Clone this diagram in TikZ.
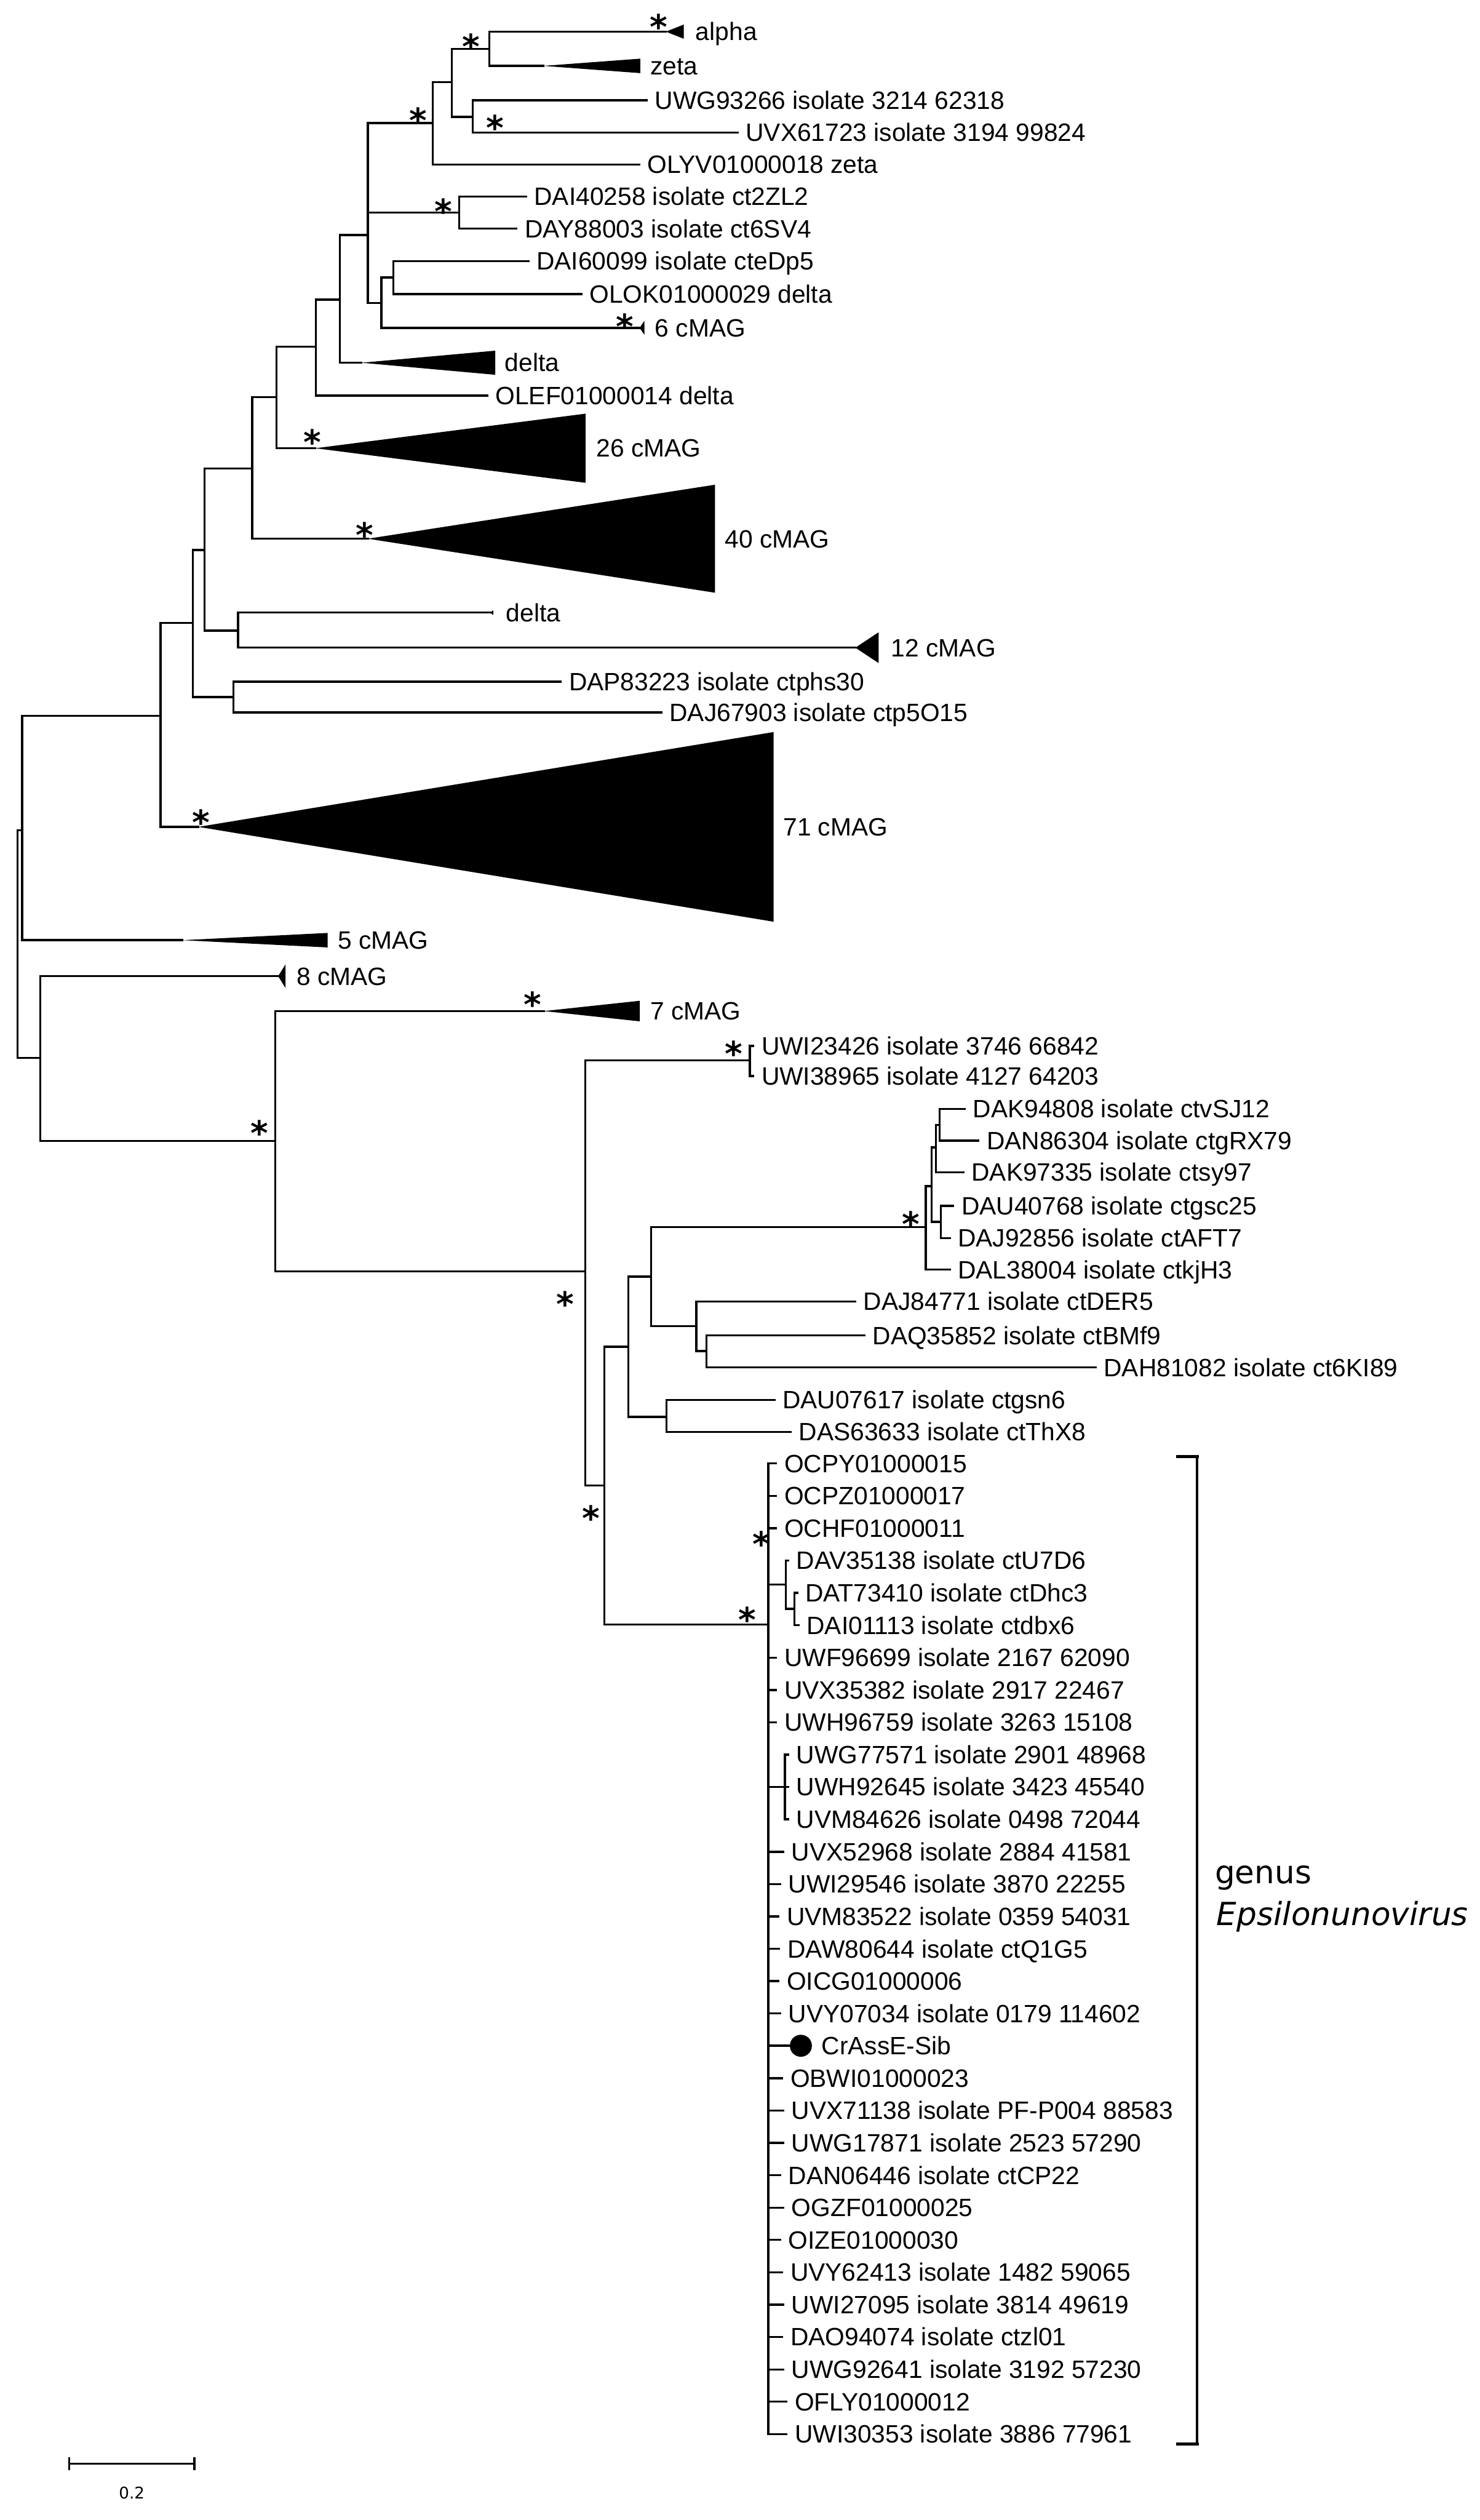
\documentclass[tikz,border=0pt]{standalone}
\usepackage{fontspec}
\setmainfont{Liberation Sans}
\newfontfamily\vfont{DejaVu Sans}
\usetikzlibrary{positioning}
\tikzset{leaf/.style = {anchor=west, inner xsep=4.5pt, inner ysep=0pt,
                        text height=11pt, text depth=0pt,
                        font=\fontsize{15.6}{16}\selectfont}}
\tikzset{bstar/.style = {anchor=base, inner sep=0pt, yshift=-12.5pt,
                         font=\vfont\bfseries\fontsize{21}{21}\selectfont}}
\tikzset{circ/.style = {fill, circle, inner sep = 0, minimum size = 13.7}}
\tikzset{every picture/.style={
    every path/.style={line width=1.3pt, line cap=rect},
}}
\newcommand{\clade}[3]{\fill (#1) -- ++(#2,-#3) -- ++(0,2*#3) -- cycle;}

\begin{document}
\begin{tikzpicture}[x=1pt,y=-1pt]
    \useasboundingbox (0,0) rectangle (921,1568);
    % inner nodes
    \coordinate (nr) at (10.8,516.5);
    \coordinate (nn) at (13.8,516.5);
    \coordinate (nm) at (99.9,445.3);
    \coordinate (nk) at (119.9,387.6);
    \coordinate (nl) at (145.3,433.7);
    \coordinate (ni) at (127.2,342.3);
    \coordinate (nj) at (148.2,392.4);
    \coordinate (nh) at (157,291.4);
    \coordinate (ng) at (172,247.1);
    \coordinate (nf) at (196.6,215.8);
    \coordinate (ne) at (211.5,186.4);
    \coordinate (nd) at (228.9,146.2);
    \coordinate (nc) at (269.3,76.6);
    \coordinate (nb) at (281.2,51);
    \coordinate (na) at (304.6,30.4);
    \coordinate (nuu) at (294.1,72.7);
    \coordinate (ndg) at (285.7,132.2);
    \coordinate (ndh) at (237.3,188.6);
    \coordinate (ndi) at (244.7,172.7);
    \coordinate (no) at (25,658.3);
    \coordinate (np) at (171.2,710);
    \coordinate (nq) at (364.2,791);
    \coordinate (nuw) at (466.6,659.8);
    \coordinate (ns) at (376.2,924.3);
    \coordinate (nt) at (391.1,838);
    \coordinate (nu) at (405.3,794.4);
    \coordinate (nv) at (576.1,763.6);
    \coordinate (nw) at (579.8,738);
    \coordinate (nwa) at (582.4,714);
    \coordinate (nwb) at (584.7,700);
    \coordinate (nwc) at (585.4,760.2);
    \coordinate (nx) at (433.4,825.2);
    \coordinate (ny) at (439.7,840.6);
    \coordinate (nz) at (414.7,881.6);
    \coordinate (ngen) at (478.2,1010.7);
    \coordinate (ngd) at (489,985.9);
    \coordinate (ngd2) at (494.5,1001);
    \coordinate (ngu) at (488.5,1111.9);

    % collapsed clades
    \coordinate (talpha) at (414.4,19.7);
    \coordinate (tzeta) at (338.1,41);
    \coordinate (tsix) at (398,204);
    \coordinate (tdelta) at (225,225.7);
    \coordinate (ttwsix) at (196.2,278.9);
    \coordinate (tforty) at (228.9,335.2);
    \coordinate (tdsmall) at (305,381.2);
    \coordinate (ttwelve) at (532.3,403);
    \coordinate (tseventy) at (123.5,514.5);
    \coordinate (tfive) at (113.5,585);
    \coordinate (teight) at (173.1,607.4);
    \coordinate (tseven) at (338.5,629.1);
    \clade{talpha}{11.1}{4.4}
    \clade{tzeta}{60.4}{4.5}
    \clade{tsix}{3}{4.3}
    \clade{tdelta}{83.2}{7.5}
    \clade{ttwsix}{168.2}{21.5}
    \clade{tforty}{216.1}{33.6}
    \clade{tdsmall}{2}{1.5}
    \clade{ttwelve}{14.5}{9.6}
    \clade{tseventy}{357.9}{59}
    \clade{tfive}{90.4}{4.5}
    \clade{teight}{4.6}{7.4}
    \clade{tseven}{59.7}{6.4}
    \node[leaf] (lalpha) at (427.8,19.7) {alpha};
    \node[leaf] (lzeta) at (399.5,41) {zeta};
    \node[leaf] (lsix) at (402.5,204) {6 cMAG};
    \node[leaf] (ldelta) at (309.1,225.7) {delta};
    \node[leaf] (ltwsix) at (366.1,278.9) {26 cMAG};
    \node[leaf] (lforty) at (446,335.2) {40 cMAG};
    \node[leaf] (ldsmall) at (309.8,381.2) {delta};
    \node[leaf] (ltwelve) at (549.5,403) {12 cMAG};
    \node[leaf] (lseventy) at (482.3,514.5) {71 cMAG};
    \node[leaf] (lfive) at (205.2,585) {5 cMAG};
    \node[leaf] (leight) at (179.4,607.4) {8 cMAG};
    \node[leaf] (lseven) at (399.5,629.1) {7 cMAG};

    % leaves, upper part
    \node[leaf] (uwg93266) at (402.4,62.4) {UWG93266 isolate 3214 62318};
    \node[leaf] (uvx61723) at (459,82.4) {UVX61723 isolate 3194 99824};
    \node[leaf] (olyv) at (397.7,102.3) {OLYV01000018 zeta};
    \node[leaf] (dai40258) at (327.3,122.3) {DAI40258 isolate ct2ZL2};
    \node[leaf] (day88003) at (321.4,142.3) {DAY88003 isolate ct6SV4};
    \node[leaf] (dai60099) at (328.8,162.5) {DAI60099 isolate cteDp5};
    \node[leaf] (olok) at (361.8,183) {OLOK01000029 delta};
    \node[leaf] (olef) at (303.2,246.2) {OLEF01000014 delta};
    \node[leaf] (dap83223) at (349,424.1) {DAP83223 isolate ctphs30};
    \node[leaf] (daj67903) at (411.5,443.3) {DAJ67903 isolate ctp5O15};

    % leaves, middle part
    \node[leaf] (uwi23426) at (468.8,650.8) {UWI23426 isolate 3746 66842};
    \node[leaf] (uwi38965) at (468.8,669.5) {UWI38965 isolate 4127 64203};
    \node[leaf] (dak94808) at (600.3,690) {DAK94808 isolate ctvSJ12};
    \node[leaf] (dan86304) at (608.9,709.8) {DAN86304 isolate ctgRX79};
    \node[leaf] (dak97335) at (599.5,729.4) {DAK97335 isolate ctsy97};
    \node[leaf] (dau40768) at (593.2,750.3) {DAU40768 isolate ctgsc25};
    \node[leaf] (daj92856) at (591,770.3) {DAJ92856 isolate ctAFT7};
    \node[leaf] (dal38004) at (591,790) {DAL38004 isolate ctkjH3};
    \node[leaf] (daj84771) at (532.3,809.8) {DAJ84771 isolate ctDER5};
    \node[leaf] (daq35852) at (537.9,831) {DAQ35852 isolate ctBMf9};
    \node[leaf] (dah81082) at (681.8,850.9) {DAH81082 isolate ct6KI89};
    \node[leaf] (dau07617) at (481.9,871) {DAU07617 isolate ctgsn6};
    \node[leaf] (das63633) at (492,891) {DAS63633 isolate ctThX8};

    % leaves, genus clade
    \node[leaf] (ocpy) at (483,910.6) {OCPY01000015};
    \node[leaf] (ocpz) at (483,930.7) {OCPZ01000017};
    \node[leaf] (ochf) at (483,950.9) {OCHF01000011};
    \node[leaf] (dav35138) at (490.5,971) {DAV35138 isolate ctU7D6};
    \node[leaf] (dat73410) at (496.1,991.1) {DAT73410 isolate ctDhc3};
    \node[leaf] (dai01113) at (496.9,1011.3) {DAI01113 isolate ctdbx6};
    \node[leaf] (uwf96699) at (483,1031.4) {UWF96699 isolate 2167 62090};
    \node[leaf] (uvx35382) at (483,1051.5) {UVX35382 isolate 2917 22467};
    \node[leaf] (uwh96759) at (483,1071.6) {UWH96759 isolate 3263 15108};
    \node[leaf] (uwg77571) at (490.5,1091.8) {UWG77571 isolate 2901 48968};
    \node[leaf] (uwh92645) at (490.5,1111.9) {UWH92645 isolate 3423 45540};
    \node[leaf] (uvm84626) at (490.5,1132) {UVM84626 isolate 0498 72044};
    \node[leaf] (uvx52968) at (487.5,1152.2) {UVX52968 isolate 2884 41581};
    \node[leaf] (uwi29546) at (485.5,1172.3) {UWI29546 isolate 3870 22255};
    \node[leaf] (uvm83522) at (484.5,1192.4) {UVM83522 isolate 0359 54031};
    \node[leaf] (daw80644) at (484.9,1212.6) {DAW80644 isolate ctQ1G5};
    \node[leaf] (oicg) at (484.5,1232.7) {OICG01000006};
    \node[leaf] (uvy07034) at (485.5,1252.8) {UVY07034 isolate 0179 114602};
    \node[circ] (crassdot) at (498.4,1272.9) {};
    \node[leaf] (crass) at (506.2,1272.9) {CrAssE-Sib};
    \node[leaf] (obwi) at (486.8,1293.1) {OBWI01000023};
    \node[leaf] (uvx71138) at (487.5,1313.2) {UVX71138 isolate PF-P004 88583};
    \node[leaf] (uwg17871) at (487.5,1333.3) {UWG17871 isolate 2523 57290};
    \node[leaf] (dan06446) at (485.5,1353.5) {DAN06446 isolate ctCP22};
    \node[leaf] (ogzf) at (487.5,1373.6) {OGZF01000025};
    \node[leaf] (oize) at (485.5,1393.7) {OIZE01000030};
    \node[leaf] (uvy62413) at (486.8,1413.9) {UVY62413 isolate 1482 59065};
    \node[leaf] (uwi27095) at (487.5,1434) {UWI27095 isolate 3814 49619};
    \node[leaf] (dao94074) at (486.8,1454.1) {DAO94074 isolate ctzl01};
    \node[leaf] (uwg92641) at (487.5,1474.3) {UWG92641 isolate 3192 57230};
    \node[leaf] (ofly) at (489.5,1494.4) {OFLY01000012};
    \node[leaf] (uwi30353) at (489.5,1514.5) {UWI30353 isolate 3886 77961};

    % branches
    \draw (nr) |- (nn);
    \draw (nr) |- (no);
    \draw (nn) |- (nm);
    \draw (nn) |- (tfive);
    \draw (nm) |- (nk);
    \draw (nm) |- (tseventy);
    \draw (nk) |- (ni);
    \draw (nk) |- (nl);
    \draw (nl) |- (dap83223);
    \draw (nl) |- (daj67903);
    \draw (ni) |- (nh);
    \draw (ni) |- (nj);
    \draw (nj) |- (tdsmall);
    \draw (nj) |- (ttwelve);
    \draw (nh) |- (ng);
    \draw (nh) |- (tforty);
    \draw (ng) |- (nf);
    \draw (ng) |- (ttwsix);
    \draw (nf) |- (ne);
    \draw (nf) |- (olef);
    \draw (ne) |- (nd);
    \draw (ne) |- (tdelta);
    \draw (nd) |- (nc);
    \draw (nd) |- (ndg);
    \draw (nd) |- (ndh);
    \draw (nc) |- (nb);
    \draw (nc) |- (olyv);
    \draw (nb) |- (na);
    \draw (nb) |- (nuu);
    \draw (na) |- (talpha);
    \draw (na) |- (tzeta);
    \draw (nuu) |- (uwg93266);
    \draw (nuu) |- (uvx61723);
    \draw (ndg) |- (dai40258);
    \draw (ndg) |- (day88003);
    \draw (ndh) |- (ndi);
    \draw (ndh) |- (tsix);
    \draw (ndi) |- (dai60099);
    \draw (ndi) |- (olok);
    \draw (no) |- (teight);
    \draw (no) |- (np);
    \draw (np) |- (tseven);
    \draw (np) |- (nq);
    \draw (nq) |- (nuw);
    \draw (nq) |- (ns);
    \draw (nuw) |- (uwi23426);
    \draw (nuw) |- (uwi38965);
    \draw (ns) |- (nt);
    \draw (ns) |- (ngen);
    \draw (nt) |- (nu);
    \draw (nt) |- (nz);
    \draw (nu) |- (nv);
    \draw (nu) |- (nx);
    \draw (nv) |- (nw);
    \draw (nv) |- (dal38004);
    \draw (nw) |- (nwa);
    \draw (nw) |- (nwc);
    \draw (nwa) |- (nwb);
    \draw (nwa) |- (dak97335);
    \draw (nwb) |- (dak94808);
    \draw (nwb) |- (dan86304);
    \draw (nwc) |- (dau40768);
    \draw (nwc) |- (daj92856);
    \draw (nx) |- (daj84771);
    \draw (nx) |- (ny);
    \draw (ny) |- (daq35852);
    \draw (ny) |- (dah81082);
    \draw (nz) |- (dau07617);
    \draw (nz) |- (das63633);
    \draw (ngen) |- (ocpy);
    \draw (ngen) |- (ocpz);
    \draw (ngen) |- (ochf);
    \draw (ngen) |- (ngd);
    \draw (ngd) |- (dav35138);
    \draw (ngd) |- (ngd2);
    \draw (ngd2) |- (dat73410);
    \draw (ngd2) |- (dai01113);
    \draw (ngen) |- (uwf96699);
    \draw (ngen) |- (uvx35382);
    \draw (ngen) |- (uwh96759);
    \draw (ngen) |- (ngu);
    \draw (ngu) |- (uwg77571);
    \draw (ngu) |- (uwh92645);
    \draw (ngu) |- (uvm84626);
    \draw (ngen) |- (uvx52968);
    \draw (ngen) |- (uwi29546);
    \draw (ngen) |- (uvm83522);
    \draw (ngen) |- (daw80644);
    \draw (ngen) |- (oicg);
    \draw (ngen) |- (uvy07034);
    \draw (ngen) |- (crassdot);
    \draw (ngen) |- (obwi);
    \draw (ngen) |- (uvx71138);
    \draw (ngen) |- (uwg17871);
    \draw (ngen) |- (dan06446);
    \draw (ngen) |- (ogzf);
    \draw (ngen) |- (oize);
    \draw (ngen) |- (uvy62413);
    \draw (ngen) |- (uwi27095);
    \draw (ngen) |- (dao94074);
    \draw (ngen) |- (uwg92641);
    \draw (ngen) |- (ofly);
    \draw (ngen) |- (uwi30353);

    % bootstrap stars
    \node[bstar] (s1) at (409.9,12) {*};
    \node[bstar] (s2) at (293.2,23.9) {*};
    \node[bstar] (s3) at (308.2,74.4) {*};
    \node[bstar] (s4) at (260.3,70.1) {*};
    \node[bstar] (s5) at (275.9,126.5) {*};
    \node[bstar] (s6) at (389,198.4) {*};
    \node[bstar] (s7) at (194.4,270.2) {*};
    \node[bstar] (s8) at (227.1,327.9) {*};
    \node[bstar] (s9) at (125.3,506.9) {*};
    \node[bstar] (s10) at (331.6,620.1) {*};
    \node[bstar] (s11) at (161.6,700) {*};
    \node[bstar] (s12) at (456.5,650.8) {*};
    \node[bstar] (s13) at (566.7,756.8) {*};
    \node[bstar] (s14) at (351.9,806.4) {*};
    \node[bstar] (s15) at (368,939.7) {*};
    \node[bstar] (s16) at (465.1,1003) {*};
    \node[bstar] (s17) at (474,956) {*};

    % genus bracket
    \coordinate (brtop) at (744.9,906.4);
    \coordinate (brbot) at (744.9,1520.6);
    \draw (brtop) -- (brbot);
    \draw[line width=2pt] ([xshift=-12pt]brtop) -- (brtop);
    \draw[line width=2pt] ([xshift=-12pt]brbot) -- (brbot);
    \node[anchor=base west, inner sep=0pt, font=\vfont\fontsize{19.8}{20}\selectfont]
        (genus) at (755.4,1172) {genus};
    \node[anchor=base west, inner sep=0pt, font=\vfont\fontsize{19.8}{20}\selectfont\itshape]
        (epsilon) at (756.5,1198) {Epsilonunovirus};

    % scale bar
    \coordinate (sb0) at (43,1533);
    \coordinate (sb1) at (121,1533);
    \draw (sb0) -- (sb1);
    \draw ([yshift=3.5pt]sb0) -- ([yshift=-3.5pt]sb0);
    \draw ([yshift=3.5pt]sb1) -- ([yshift=-3.5pt]sb1);
    \node[font=\vfont\fontsize{10}{10}\selectfont, inner sep=0pt] (sblabel) at (82,1551) {0.2};
\end{tikzpicture}
\end{document}
